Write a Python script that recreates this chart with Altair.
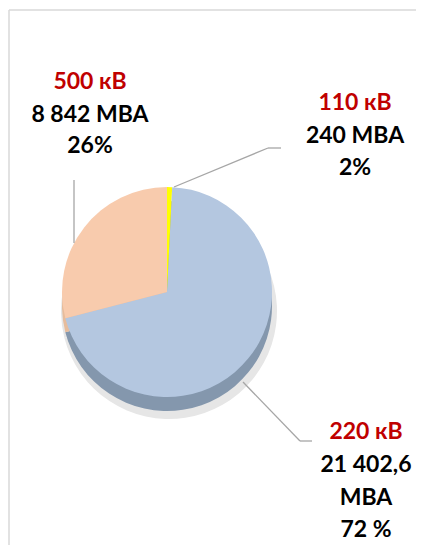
import altair as alt
import pandas as pd

# ---- data ----
categories = ["110 кВ", "220 кВ", "500 кВ"]
power_mva = [240, 21402.6, 8842]
power_lines = [["240 MBA"], ["21 402,6", "MBA"], ["8 842 MBA"]]
share_text = ["2%", "72 %", "26%"]
slice_order = [0, 1, 2]

# ---- styles ----
top_colors = ["#FFFF00", "#B4C7E0", "#F8CBAD"]
side_colors = ["#C9C900", "#8497AD", "#E6BC9C"]
RED = "#C00000"
INK = "#000000"
LEAD = "#A6A6A6"
FONT = "Lato"
FS = 23

W, H = 408, 537
CX, CY = 159, 284
R = 105
DEPTH = 14

df = pd.DataFrame({"cat": categories, "mva": power_mva, "ord": slice_order})
base = alt.Chart(df)

theta = alt.Theta("mva:Q", stack=True)
order = alt.Order("ord:Q", sort="ascending")

shadow = base.mark_arc(radius=R + 3, color="#E6E6E6").encode(
    theta=theta, order=order, x=alt.value(CX + 2), y=alt.value(CY + DEPTH + 5)
)
side = base.mark_arc(radius=R).encode(
    theta=theta, order=order,
    color=alt.Color("cat:N", scale=alt.Scale(domain=categories, range=side_colors), legend=None),
    x=alt.value(CX), y=alt.value(CY + DEPTH),
)
top = base.mark_arc(radius=R).encode(
    theta=theta, order=order,
    color=alt.Color("cat2:N", scale=alt.Scale(domain=categories, range=top_colors), legend=None),
    x=alt.value(CX), y=alt.value(CY),
).transform_calculate(cat2="datum.cat")


def rule(x1, y1, x2, y2, color=LEAD, width=1.3):
    return alt.Chart(pd.DataFrame({"k": [0]})).mark_rule(color=color, strokeWidth=width).encode(
        x=alt.value(x1), y=alt.value(y1), x2=alt.value(x2), y2=alt.value(y2)
    )


def label(text, x, y, color):
    return alt.Chart(pd.DataFrame({"t": [text]})).mark_text(
        font=FONT, fontSize=FS, fontWeight="bold", color=color,
        align="center", baseline="alphabetic",
    ).encode(text="t:N", x=alt.value(x), y=alt.value(y))


layers = [shadow, side, top]

# border of the chart area (left and top edges)
layers.append(rule(1, 2, 1, 560, "#D9D9D9", 1.5))
layers.append(rule(1, 2, 420, 2, "#D9D9D9", 1.5))

# leader lines
layers.append(rule(66, 172, 66, 235))
layers.append(rule(273, 140, 260, 140))
layers.append(rule(260, 140, 166, 179))
layers.append(rule(304, 433, 292, 433))
layers.append(rule(292, 433, 235, 374))

# labels: 500 kV
layers.append(label(categories[2], 82, 81, RED))
layers.append(label(power_lines[2][0], 82, 114, INK))
layers.append(label(share_text[2], 82, 145, INK))
# 110 kV
layers.append(label(categories[0], 347, 102, RED))
layers.append(label(power_lines[0][0], 347, 135, INK))
layers.append(label(share_text[0], 347, 167, INK))
# 220 kV
layers.append(label(categories[1], 358, 431, RED))
layers.append(label(power_lines[1][0], 358, 464, INK))
layers.append(label(power_lines[1][1], 358, 497, INK))
layers.append(label(share_text[1], 358, 529, INK))

chart = alt.layer(*layers).resolve_scale(color="independent").properties(
    width=W, height=H, padding=0, autosize=alt.AutoSizeParams(type="none")
).configure_view(stroke=None)

chart.save("out.html", embed_options={"renderer": "svg", "actions": False})
